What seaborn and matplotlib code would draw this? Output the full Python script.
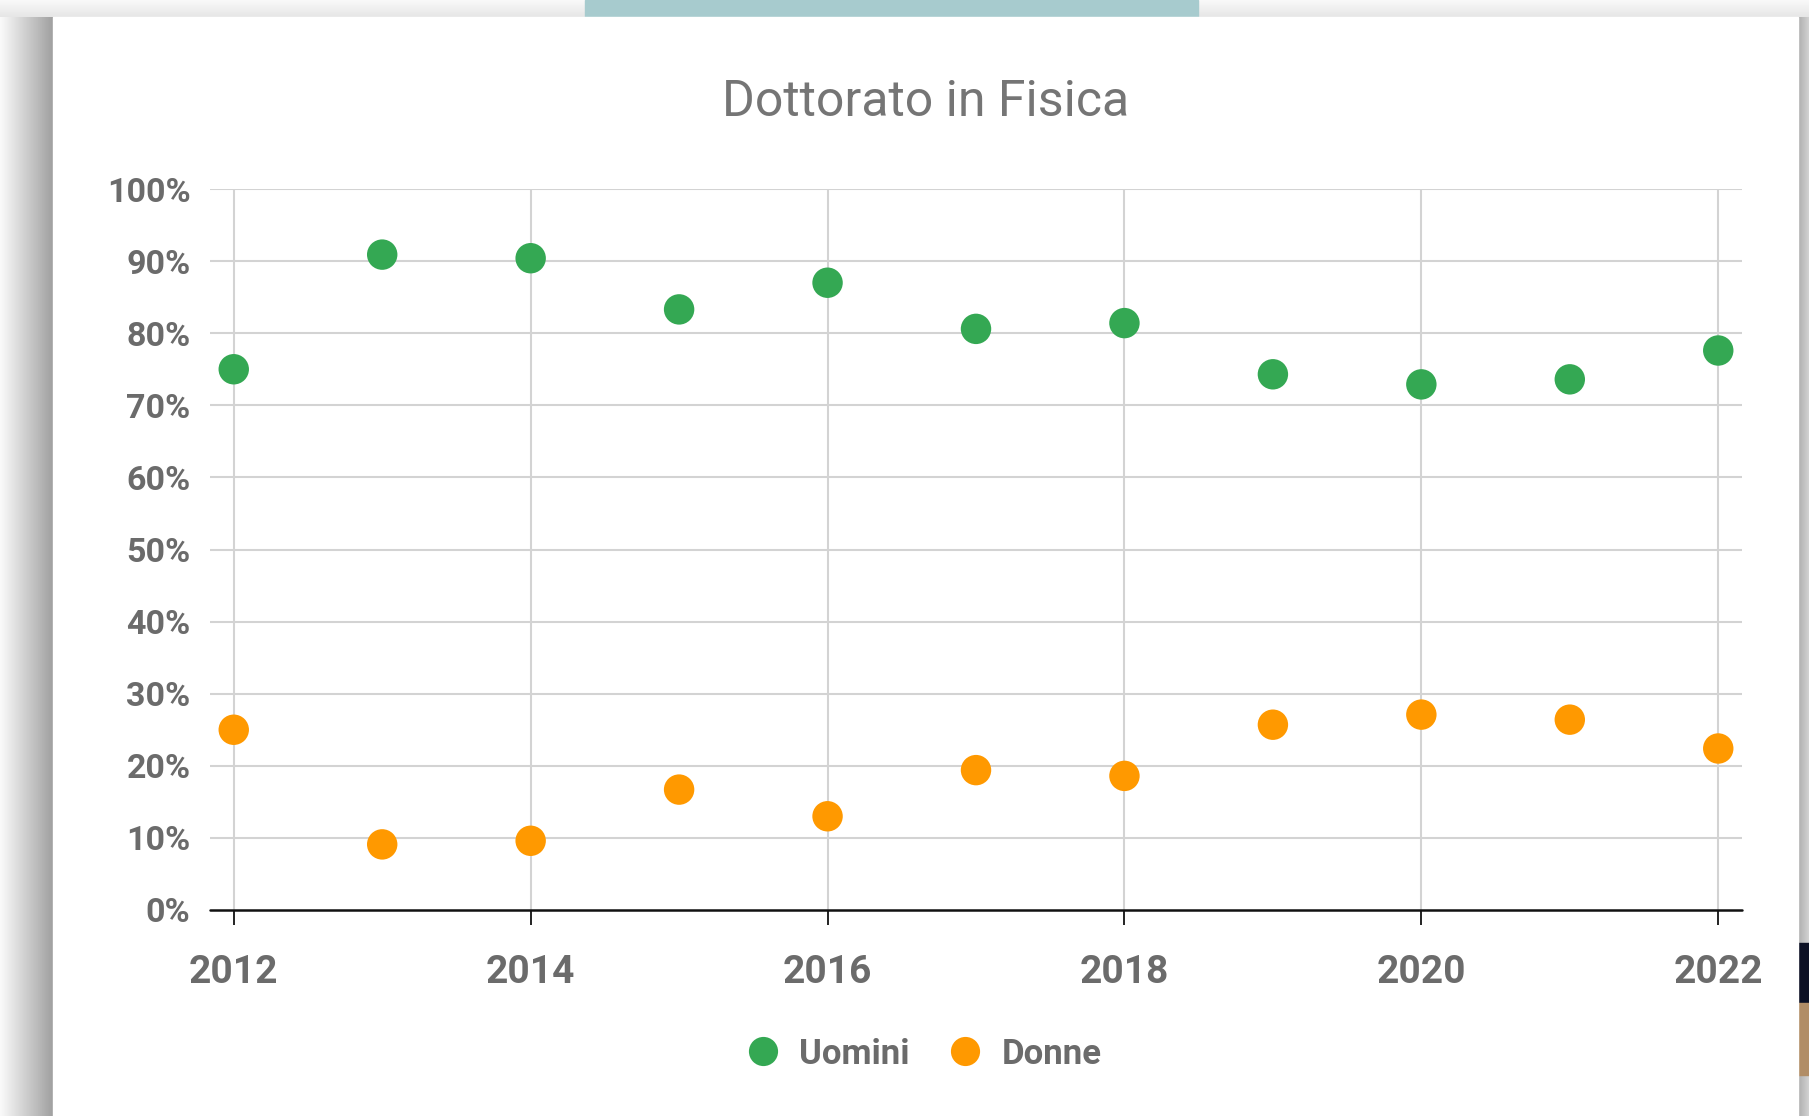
import numpy as np
import pandas as pd
import matplotlib
matplotlib.use('Agg')
import matplotlib.pyplot as plt
from matplotlib.lines import Line2D
from matplotlib.patches import Rectangle
import seaborn as sns

# Data (percentages)
years = [2012, 2013, 2014, 2015, 2016, 2017, 2018, 2019, 2020, 2021, 2022]
uomini = [75.0, 90.9, 90.4, 83.3, 87.0, 80.6, 81.4, 74.3, 72.9, 73.6, 77.6]
donne = [25.0, 9.1, 9.6, 16.7, 13.0, 19.4, 18.6, 25.7, 27.1, 26.4, 22.4]
series_names = ['Uomini', 'Donne']
series_colors = ['#34a853', '#ff9900']
x_ticks = [2012, 2014, 2016, 2018, 2020, 2022]
y_ticks = [0, 10, 20, 30, 40, 50, 60, 70, 80, 90, 100]

df = pd.DataFrame({
    'anno': years * 2,
    'valore': uomini + donne,
    'serie': ['Uomini'] * len(years) + ['Donne'] * len(years),
})

sns.set_theme(style='white')
plt.rcParams['font.family'] = ['Roboto', 'DejaVu Sans']

W, H = 1809, 1116
fig = plt.figure(figsize=(W / 100, H / 100), dpi=100, facecolor='white')

# screenshot background: card, shadows, bits of page around it
bg = fig.add_axes([0, 0, 1, 1], zorder=-5)
bg.axis('off')
top_grad = np.linspace(0.975, 0.90, 50).reshape(-1, 1)
bg.imshow(top_grad, extent=(0, W, 17, 0), cmap='gray', vmin=0, vmax=1, aspect='auto')
left_grad = np.linspace(0.98, 0.63, 60).reshape(1, -1)
bg.imshow(left_grad, extent=(0, 53, H, 17), cmap='gray', vmin=0, vmax=1, aspect='auto')
right_grad = np.linspace(0.68, 0.82, 20).reshape(1, -1)
bg.imshow(right_grad, extent=(1798, W, H, 17), cmap='gray', vmin=0, vmax=1, aspect='auto')
bg.add_patch(Rectangle((585, 0), 613, 17, color='#a7cbce'))
bg.add_patch(Rectangle((1798, 943), 11, 60, color='#0c1024'))
bg.add_patch(Rectangle((1798, 1003), 11, 72, color='#b18d66'))
bg.add_patch(Rectangle((53, 17), 1745, H - 17, color='white'))
bg.set_xlim(0, W)
bg.set_ylim(H, 0)

# main chart
ax = fig.add_axes([210 / W, 1 - 910 / H, (1742 - 210) / W, (910 - 189) / H])
ax.set_facecolor('none')
sns.scatterplot(data=df, x='anno', y='valore', hue='serie', hue_order=series_names,
                palette=series_colors, s=480, edgecolor='none', ax=ax, legend=False,
                zorder=5, clip_on=False)

ax.set_xlim(2011.84, 2022.16)
ax.set_ylim(0, 100)
ax.set_xticks(x_ticks)
ax.set_yticks(y_ticks)
ax.set_yticklabels([f'{v}%' for v in y_ticks])
for v in y_ticks[1:]:
    ax.axhline(v, color='#d3d3d3', lw=1.5, zorder=1)
for v in x_ticks:
    ax.axvline(v, color='#d3d3d3', lw=1.5, zorder=1)
ax.axhline(0, color='#111111', lw=1.8, zorder=3, clip_on=False)

for s in ax.spines.values():
    s.set_visible(False)
ax.tick_params(axis='x', bottom=True, direction='inout', length=22, width=1.3,
               color='#111111', pad=21, labelsize=28, labelcolor='#6b6b6b')
ax.tick_params(axis='y', left=False, length=0, pad=14, labelsize=24.5, labelcolor='#6b6b6b')
for lab in ax.get_xticklabels() + ax.get_yticklabels():
    lab.set_fontweight('bold')
ax.set_xlabel('')
ax.set_ylabel('')

fig.text(926 / W, 1 - 102 / H, 'Dottorato in Fisica', ha='center', va='center',
         fontsize=36, color='#757575')

handles = [Line2D([], [], marker='o', linestyle='none', markersize=21,
                  markerfacecolor=c, markeredgecolor='none') for c in series_colors]
leg = fig.legend(handles, series_names, loc='center', bbox_to_anchor=(919 / W, 1 - 1054 / H),
                 ncol=2, frameon=False, handlelength=1.5, handletextpad=0.3,
                 columnspacing=0.85, prop={'size': 25, 'weight': 'bold'})
for t in leg.get_texts():
    t.set_color('#6b6b6b')

fig.savefig('out.png', dpi=100)
